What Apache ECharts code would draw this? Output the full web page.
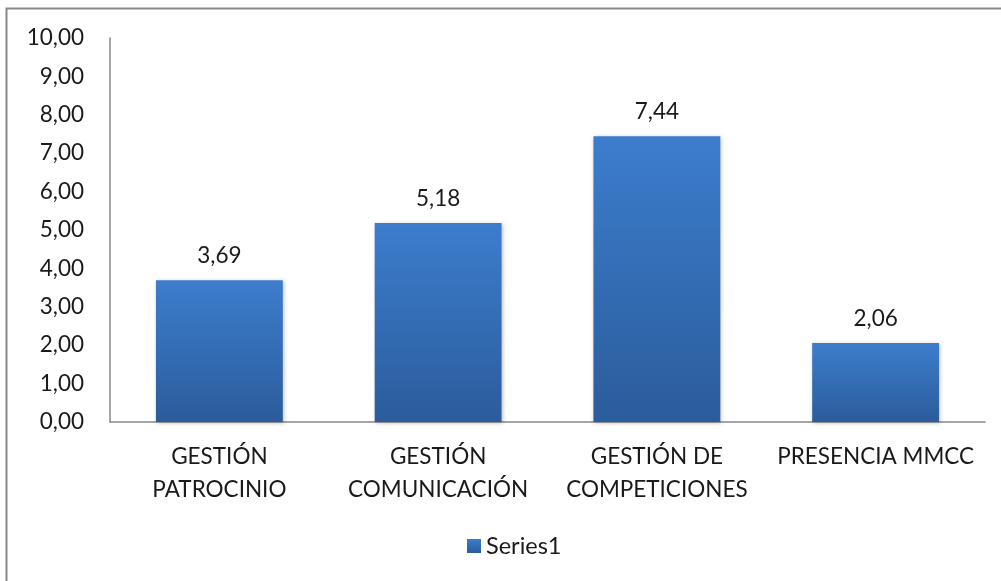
<!DOCTYPE html>
<html>
<head>
<meta charset="utf-8">
<script src="https://cdn.jsdelivr.net/npm/echarts@6/dist/echarts.min.js"></script>
<style>
html,body{margin:0;padding:0;background:#fff;}
#c{width:1001px;height:581px;}
</style>
</head>
<body>
<div id="c"></div>
<script>
const categories = ["GESTIÓN\nPATROCINIO", "GESTIÓN\nCOMUNICACIÓN", "GESTIÓN DE\nCOMPETICIONES", "PRESENCIA MMCC"];
const values = [3.69, 5.18, 7.44, 2.06];
const seriesName = "Series1";
const yMin = 0, yMax = 10, yStep = 1;

const fmt = v => v.toFixed(2).replace('.', ',');
const FONT = 'Lato';
const FS = 22.5;
const chart = echarts.init(document.getElementById('c'), null, {renderer: 'canvas'});
chart.setOption({
  animation: false,
  backgroundColor: '#fff',
  textStyle: {fontFamily: FONT},
  graphic: [{
    type: 'rect', silent: true,
    shape: {x: 6.5, y: 8.5, width: 1100, height: 700},
    style: {fill: 'none', stroke: '#888', lineWidth: 2}
  }],
  grid: {left: 110, right: 16, top: 38, bottom: 159, containLabel: false},
  legend: {
    bottom: 18, left: 462,
    itemWidth: 14, itemHeight: 14, itemGap: 6,
    icon: 'rect',
    textStyle: {fontSize: 23.5, color: '#1a1a1a', fontFamily: FONT},
    data: [seriesName]
  },
  xAxis: {
    type: 'category', data: categories,
    axisLine: {lineStyle: {color: '#888', width: 1.5}},
    axisTick: {show: false},
    axisLabel: {fontSize: FS, color: '#1a1a1a', margin: 18, lineHeight: 33, interval: 0, fontFamily: FONT}
  },
  yAxis: {
    type: 'value', min: yMin, max: yMax, interval: yStep,
    axisLine: {show: true, lineStyle: {color: '#888', width: 1.5}},
    axisTick: {show: false},
    splitLine: {show: false},
    axisLabel: {fontSize: FS, color: '#1a1a1a', margin: 26, formatter: v => fmt(v), fontFamily: FONT}
  },
  series: [{
    name: seriesName, type: 'bar', data: values, barWidth: '58%',
    itemStyle: {
      color: new echarts.graphic.LinearGradient(0, 0, 0, 1, [
        {offset: 0, color: '#3c7dcd'},
        {offset: 1, color: '#2b5c9b'}
      ]),
      shadowColor: 'rgba(0,0,0,0.25)', shadowBlur: 4, shadowOffsetX: 1, shadowOffsetY: 1
    },
    label: {show: true, position: 'top', distance: 13, fontSize: FS, color: '#1a1a1a', formatter: p => fmt(p.value), fontFamily: FONT}
  }]
});
</script>
</body>
</html>
